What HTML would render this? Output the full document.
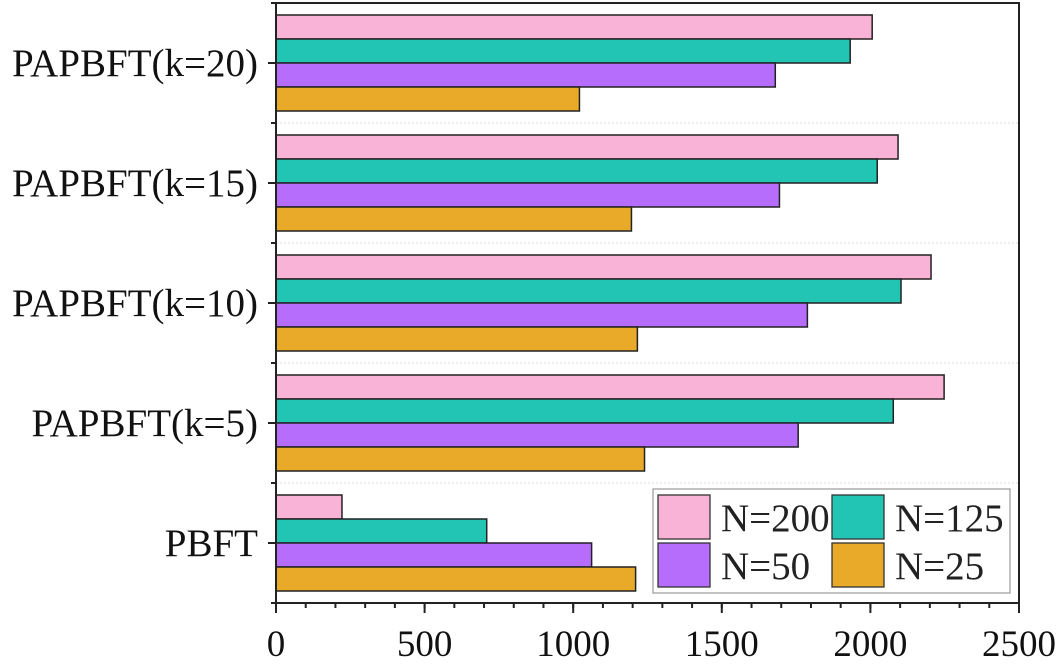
<!DOCTYPE html>
<html><head><meta charset="utf-8"><style>
html,body{margin:0;padding:0;background:#fff;}
svg{display:block;font-family:"Liberation Serif",serif;}
</style></head><body>
<svg id="chart" width="1063" height="664" viewBox="0 0 1063 664" xmlns="http://www.w3.org/2000/svg"></svg>
<script>
const categories = ["PAPBFT(k=20)","PAPBFT(k=15)","PAPBFT(k=10)","PAPBFT(k=5)","PBFT"];
const seriesNames = ["N=200","N=125","N=50","N=25"];
const n200 = [2006,2093,2204,2248,222];
const n125 = [1932,2023,2103,2077,709];
const n50 = [1680,1694,1788,1757,1062];
const n25 = [1021,1196,1216,1240,1210];
const xTicks = [0,500,1000,1500,2000,2500];
const xMinorStep = 100;

const series=[n200,n125,n50,n25];
const colors=["#f9b3d6","#22c4b4","#b76dfb","#e8aa28"];
const L=276,R=1019,T=3,B=603,xmax=2500;
const x=v=>L+(v/xmax)*(R-L);
const band=(B-T)/categories.length;
const yc=i=>T+band*(i+0.5);
const bh=24;
const svg=document.getElementById('chart');
const NS="http://www.w3.org/2000/svg";
function mk(tag,a,parent){const e=document.createElementNS(NS,tag);for(const k in a)e.setAttribute(k,a[k]);(parent||svg).appendChild(e);return e;}

for(let i=1;i<categories.length;i++){
  const g=mk('line',{x1:L,x2:R,y1:T+band*i,y2:T+band*i,stroke:'#ddd','stroke-width':1,'stroke-dasharray':'2,2'});
  
  
}
categories.forEach((c,i)=>{
  series.forEach((s,j)=>{
    const y=yc(i)-2*bh+j*bh;
    const r=mk('rect',{x:L,y:y,width:x(s[i])-L,height:bh,fill:colors[j],stroke:'#222','stroke-width':1.5});
    
    
  });
  const t=mk('text',{x:258,y:yc(i)+13,'text-anchor':'end','font-size':39,fill:'#111'});
  t.textContent=c;
  
  
  mk('line',{x1:L-8,x2:L,y1:yc(i),y2:yc(i),stroke:'#222','stroke-width':2});
});
for(let i=0;i<=categories.length;i++){
  mk('line',{x1:L-5,x2:L,y1:T+band*i,y2:T+band*i,stroke:'#222','stroke-width':2});
}
const fr=mk('rect',{x:L,y:T,width:R-L,height:B-T,fill:'none',stroke:'#222','stroke-width':2});


for(let v=0;v<=xmax;v+=xMinorStep){
  mk('line',{x1:x(v),x2:x(v),y1:B,y2:B+5,stroke:'#222','stroke-width':2});
}
xTicks.forEach(v=>{
  mk('line',{x1:x(v),x2:x(v),y1:B,y2:B+10,stroke:'#222','stroke-width':2});
  const t=mk('text',{x:x(v),y:656,'text-anchor':'middle','font-size':37,fill:'#111'});
  t.textContent=v;
  
  
});
const lg=mk('g',{});


mk('rect',{x:653,y:489,width:357,height:104,fill:'#fff',stroke:'#999','stroke-width':1.2},lg);
const pos=[[658,495],[832,495],[658,543],[832,543]];
seriesNames.forEach((n,j)=>{
  const [lx,ly]=pos[j];
  const e=mk('g',{},lg);
  
  
  mk('rect',{x:lx,y:ly,width:52,height:44,fill:colors[j],stroke:'#333','stroke-width':1.3},e);
  const t=mk('text',{x:lx+63,y:ly+36,'font-size':39,fill:'#222'},e);
  t.textContent=n;
});
</script>
</body></html>
